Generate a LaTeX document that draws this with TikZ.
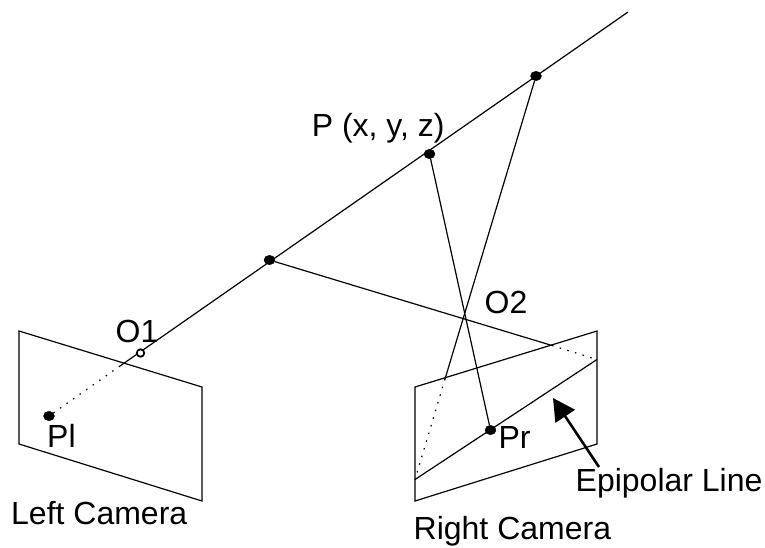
\documentclass[tikz,border=0pt]{standalone}
\usepackage{fontspec}
\setmainfont{Liberation Sans}
\usetikzlibrary{arrows.meta,shapes.geometric}
\tikzset{
  ray/.style     ={draw, line width=1.2pt},
  plane/.style   ={draw, line width=1.2pt, line join=miter},
  dotray/.style  ={draw, line width=1.2pt, dash pattern=on 1.5pt off 6.5pt},
  pt/.style      ={draw, ellipse, fill=black, minimum width=11pt, minimum height=9.5pt, inner sep=0pt},
  focal/.style   ={draw, circle, fill=white, line width=1.8pt, minimum size=7.5pt, inner sep=0pt},
  lbl/.style     ={anchor=base west, inner sep=0pt, font=\fontsize{32}{37}\selectfont},
  arr/.style     ={-{Triangle[length=22pt, width=23pt]}, line width=2.6pt},
}
\begin{document}
\begin{tikzpicture}[x=1pt, y=-1pt]
  \useasboundingbox (0,0) rectangle (765,547);

  % left camera
  \coordinate (la) at (19,331);
  \coordinate (lb) at (202,387);
  \coordinate (lc) at (202,501);
  \coordinate (ld) at (19,444);
  \draw[plane] (la) -- (lb) -- (lc) -- (ld) -- cycle;

  % right camera
  \coordinate (ra) at (415,387);
  \coordinate (rb) at (597,331);
  \coordinate (rc) at (597,444);
  \coordinate (rd) at (415,501);
  \draw[plane] (ra) -- (rb) -- (rc) -- (rd) -- cycle;

  \coordinate (el) at (415,479.5);
  \coordinate (er) at (597,359.5);
  \coordinate (rayend) at (628,12);
  \coordinate (ldot) at (120,366);
  \coordinate (rdot) at (552,345.5);
  \coordinate (tdot) at (445,379);

  \node[pt] (pl) at (49,416) {};
  \node[pt] (pr) at (490.5,430) {};
  \node[pt] (near) at (269.5,260) {};
  \node[pt] (p) at (429.5,154) {};
  \node[pt] (far) at (536,76) {};

  % rays
  \draw[dotray] (pl) -- (ldot);
  \draw[ray] (ldot) -- (rayend);
  \draw[ray] (el) -- (er);
  \draw[ray] (p) -- (pr);
  \draw[ray] (near) -- (rdot);
  \draw[dotray] (rdot) -- (er);
  \draw[ray] (far) -- (tdot);
  \draw[dotray] (tdot) -- (el);

  \node[focal] (o1) at (140.5,353) {};

  % pointer
  \coordinate (epistart) at (599,467);
  \coordinate (epitip) at (553,398);
  \draw[arr] (epistart) -- (epitip);

  % labels
  \node[lbl] (lo1) at (115.5,342) {O1};
  \node[lbl] (lo2) at (484.5,313) {O2};
  \node[lbl] (lpl) at (47,447) {Pl};
  \node[lbl] (lpr) at (498.3,448) {Pr};
  \node[lbl] (lp) at (311.6,136) {P (x, y, z)};
  \node[lbl] (lepi) at (575.5,491) {Epipolar Line};
  \node[lbl] (lleft) at (11,524) {Left Camera};
  \node[lbl] (lright) at (413.5,539) {Right Camera};
\end{tikzpicture}
\end{document}
